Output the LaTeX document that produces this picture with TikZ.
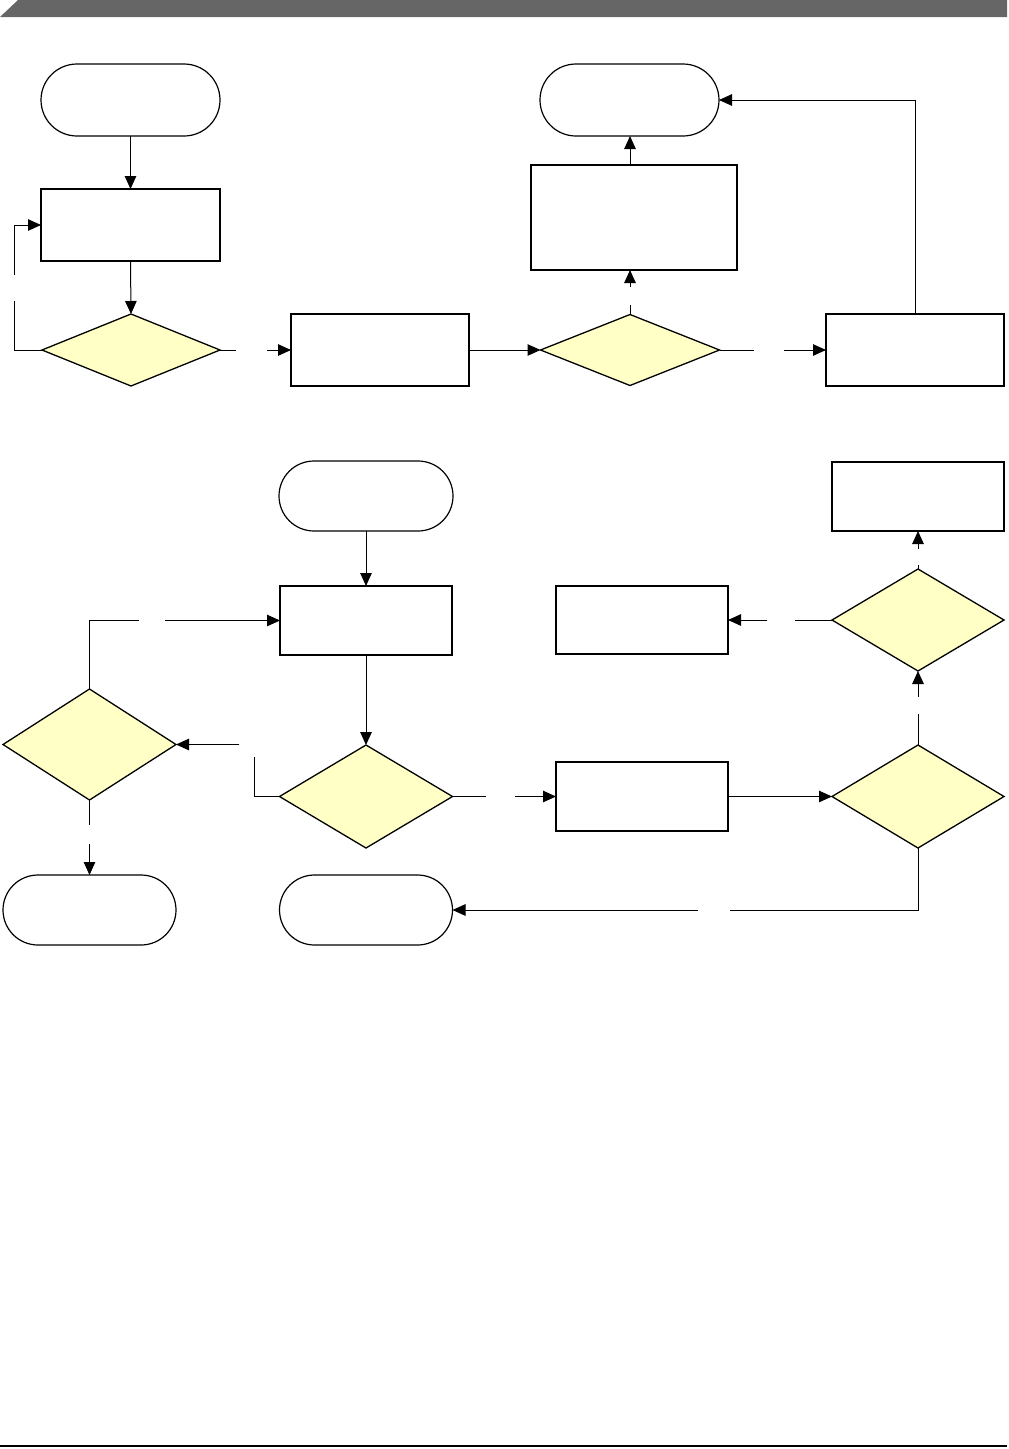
\documentclass[tikz,border=0pt]{standalone}
\usetikzlibrary{shapes.geometric,shapes.misc,arrows.meta}
\definecolor{dfill}{HTML}{FFFFC6}
\definecolor{banner}{HTML}{666666}
\tikzset{
  box/.style={draw=black, line width=1.5pt, rectangle, inner sep=0pt, outer sep=0pt},
  term/.style={draw=black, line width=1.2pt, rounded rectangle, inner sep=0pt, outer sep=0pt},
  dec/.style={draw=black, line width=1.3pt, diamond, fill=dfill, inner sep=0pt, outer sep=0pt},
  conn/.style={line width=1pt, draw=black},
  arr/.style={conn, -{Triangle[length=13pt,width=11.5pt]}}
}
\begin{document}
\begin{tikzpicture}[x=1pt,y=-1pt]
\useasboundingbox (0,0) rectangle (1009,1449);
% page decorations
\fill[banner] (0,17) -- (18,0) -- (1007,0) -- (1007,17) -- cycle;
\draw[line width=1.5pt] (0,1446) -- (1007,1446);

% ---- top flow ----
\node[term, minimum width=179pt, minimum height=72pt] (T1) at (130.5,100) {};
\node[box, minimum width=179pt, minimum height=72pt] (B1) at (130.5,225) {};
\node[dec, minimum width=178pt, minimum height=72pt] (D1) at (131,350) {};
\node[box, minimum width=178pt, minimum height=72pt] (B2) at (380,350) {};
\node[dec, minimum width=179pt, minimum height=71pt] (D2) at (630,350) {};
\node[box, minimum width=206pt, minimum height=105pt] (B3) at (634,217.5) {};
\node[term, minimum width=179pt, minimum height=72pt] (T2) at (629.5,100) {};
\node[box, minimum width=178pt, minimum height=72pt] (B4) at (915,350) {};

% ---- bottom flow ----
\node[term, minimum width=174pt, minimum height=70pt] (T3) at (366,496) {};
\node[box, minimum width=172pt, minimum height=69pt] (B5) at (366,620.5) {};
\node[dec, minimum width=173pt, minimum height=103pt] (D3) at (366,796.5) {};
\node[dec, minimum width=173pt, minimum height=111pt] (D4) at (89.5,744.5) {};
\node[term, minimum width=173pt, minimum height=70pt] (T4) at (89.5,910) {};
\node[term, minimum width=173pt, minimum height=70pt] (T5) at (366,910) {};
\node[box, minimum width=172pt, minimum height=69pt] (B6) at (642,796.5) {};
\node[dec, minimum width=172pt, minimum height=103pt] (D5) at (918,796.5) {};
\node[dec, minimum width=172pt, minimum height=102pt] (D6) at (918,620) {};
\node[box, minimum width=172pt, minimum height=68pt] (B7) at (642,620) {};
\node[box, minimum width=172pt, minimum height=69pt] (B8) at (918,496.5) {};

% gap end points (where labels were)
\coordinate (g1a) at (14,301);   \coordinate (g1b) at (14,275);
\coordinate (g2a) at (236,350);  \coordinate (g2b) at (267,350);
\coordinate (g3a) at (630,305);  \coordinate (g3b) at (630,287);
\coordinate (g4a) at (754,350);  \coordinate (g4b) at (784,350);
\coordinate (g5a) at (254,757);  \coordinate (g5b) at (239,744.5);
\coordinate (g6a) at (139,620.5);\coordinate (g6b) at (165,620.5);
\coordinate (g7a) at (89.5,825); \coordinate (g7b) at (89.5,844);
\coordinate (g8a) at (486,796.5);\coordinate (g8b) at (515,796.5);
\coordinate (g9a) at (730,910);  \coordinate (g9b) at (698,910);
\coordinate (g10a) at (918,714); \coordinate (g10b) at (918,697);
\coordinate (g11a) at (918,565); \coordinate (g11b) at (918,549);
\coordinate (g12a) at (795,620); \coordinate (g12b) at (767,620);
\coordinate (c4) at (915,100);

% top connectors
\draw[arr] (T1.south) -- (B1.north);
\draw[arr] (B1.south) -- (D1.north);
\draw[conn] (D1.west) -| (g1a);
\draw[arr] (g1b) |- (B1.west);
\draw[conn] (D1.east) -- (g2a);
\draw[arr] (g2b) -- (B2.west);
\draw[arr] (B2.east) -- (D2.west);
\draw[conn] (D2.north) -- (g3a);
\draw[arr] (g3b) -- (B3.south -| g3b);
\draw[arr] (B3.north -| D2.north) -- (T2.south -| D2.north);
\draw[conn] (D2.east) -- (g4a);
\draw[arr] (g4b) -- (B4.west);
\draw[arr] (B4.north) -- (c4) -- (T2.east);

% bottom connectors
\draw[arr] (T3.south) -- (B5.north);
\draw[arr] (B5.south) -- (D3.north);
\draw[conn] (D3.west) -| (g5a);
\draw[arr] (g5b) -- (D4.east);
\draw[conn] (D4.north) |- (g6a);
\draw[arr] (g6b) -- (B5.west);
\draw[conn] (D4.south) -- (g7a);
\draw[arr] (g7b) -- (T4.north);
\draw[conn] (D3.east) -- (g8a);
\draw[arr] (g8b) -- (B6.west);
\draw[arr] (B6.east) -- (D5.west);
\draw[conn] (D5.south) |- (g9a);
\draw[arr] (g9b) -- (T5.east);
\draw[conn] (D5.north) -- (g10a);
\draw[arr] (g10b) -- (D6.south);
\draw[conn] (D6.north) -- (g11a);
\draw[arr] (g11b) -- (B8.south);
\draw[conn] (D6.west) -- (g12a);
\draw[arr] (g12b) -- (B7.east);
\end{tikzpicture}
\end{document}
